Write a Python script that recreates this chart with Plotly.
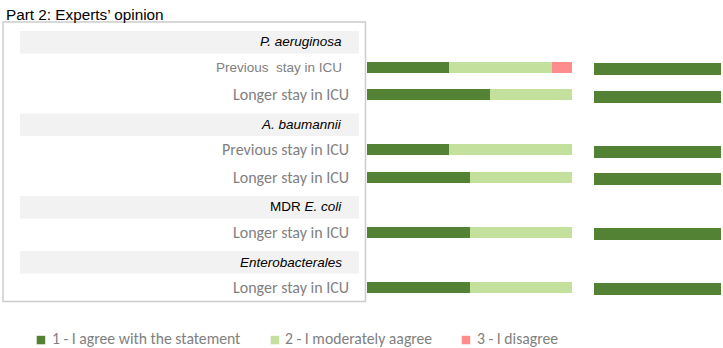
import plotly.graph_objects as go

# ---- data ----
groups = ["P. aeruginosa", "A. baumannii", "MDR E. coli", "Enterobacterales"]
group_titles = ["<i>P. aeruginosa</i>", "<i>A. baumannii</i>", "MDR <i>E. coli</i>", "<i>Enterobacterales</i>"]
row_group = ["P. aeruginosa", "P. aeruginosa", "A. baumannii", "A. baumannii", "MDR E. coli", "Enterobacterales"]
row_label = ["Previous  stay in ICU", "Longer stay in ICU", "Previous stay in ICU",
             "Longer stay in ICU", "Longer stay in ICU", "Longer stay in ICU"]
agree = [4, 6, 4, 5, 5, 5]
moderate = [5, 4, 6, 5, 5, 5]
disagree = [1, 0, 0, 0, 0, 0]
right_agree = [10, 10, 10, 10, 10, 10]
legend_names = ["1 - I agree with the statement", "2 - I moderately aagree", "3 - I disagree"]
title_text = "Part 2: Experts\u2019 opinion"

# ---- styles ----
W, H = 723, 348
C_AGREE, C_MOD, C_DIS = "#548235", "#C3E19D", "#FF8C8C"
GRAY = "#7F7F7F"
CAL = "Carlito, Calibri, Lato, sans-serif"
ARIAL = "Arial, Liberation Sans, sans-serif"

def px(x):
    return x / W

def py(y):
    return 1 - y / H

# slot categories: header slot followed by its rows
row_keys = [f"{g}|{i}" for i, g in enumerate(row_group)]
slots = []
header_keys = []
for g in groups:
    hk = f"hdr|{g}"
    header_keys.append(hk)
    slots.append(hk)
    for k, rg in zip(row_keys, row_group):
        if rg == g:
            slots.append(k)

fig = go.Figure()
for vals, col, name in zip([agree, moderate, disagree], [C_AGREE, C_MOD, C_DIS], legend_names):
    fig.add_trace(go.Bar(x=vals, y=row_keys, orientation="h", marker=dict(color=col, line=dict(width=0)),
                         width=0.4, name=name, showlegend=False, xaxis="x", yaxis="y"))
fig.add_trace(go.Bar(x=right_agree, y=row_keys, orientation="h", marker=dict(color=C_AGREE, line=dict(width=0)),
                     width=0.44, name=legend_names[0], showlegend=False, xaxis="x2", yaxis="y2"))

top, bot = 26.05, 301.05
shift = 1.5
n = len(slots)
yax = dict(type="category", categoryorder="array", categoryarray=slots, range=[n - 0.5, -0.5],
           showticklabels=False, showgrid=False, zeroline=False, showline=False, ticks="", fixedrange=True)
fig.update_layout(
    width=W, height=H, margin=dict(l=0, r=0, t=0, b=0),
    paper_bgcolor="white", plot_bgcolor="rgba(0,0,0,0)",
    barmode="stack", bargap=0,
    xaxis=dict(domain=[px(367), px(572.3)], range=[0, 10], visible=False, fixedrange=True),
    xaxis2=dict(domain=[px(593.5), px(721)], range=[0, 10], visible=False, anchor="y2", fixedrange=True),
    yaxis=dict(domain=[py(bot), py(top)], **yax),
    yaxis2=dict(domain=[py(bot + shift), py(top + shift)], anchor="x2", **yax),
)

shapes = []
# left panel box
shapes.append(dict(type="rect", xref="paper", yref="paper", x0=px(3), x1=px(365.5), y0=py(301.5), y1=py(22),
                   line=dict(color="#CCCCCC", width=1.5), fillcolor="rgba(0,0,0,0)", layer="below"))
annotations = []
for hk, gt in zip(header_keys, group_titles):
    idx = slots.index(hk)
    shapes.append(dict(type="rect", xref="paper", yref="y", x0=px(20), x1=px(359),
                       y0=idx - 0.32, y1=idx + 0.5, fillcolor="#F2F2F2", line=dict(width=0), layer="below"))
    annotations.append(dict(text=gt, xref="paper", yref="y", x=px(344), y=hk, yshift=-2.2,
                            xanchor="right", yanchor="middle", showarrow=False,
                            font=dict(family=ARIAL, size=13.5, color="black")))
for i, (k, lab) in enumerate(zip(row_keys, row_label)):
    if i == 0:
        fnt = dict(family=ARIAL, size=13.5, color=GRAY)
        xr = 343.5
    else:
        fnt = dict(family=CAL, size=16, color=GRAY)
        xr = 350.5
    annotations.append(dict(text=lab, xref="paper", yref="y", x=px(xr), y=k,
                            xanchor="right", yanchor="middle", showarrow=False, font=fnt))

# title
annotations.append(dict(text=title_text, xref="paper", yref="paper", x=px(4), y=py(14),
                        xanchor="left", yanchor="middle", showarrow=False,
                        font=dict(family=ARIAL, size=15.3, color="black")))

# legend (manual)
leg_sq_x = [36.7, 270.7, 461.7]
leg_tx_x = [50, 283, 475]
for sx, tx, col, name in zip(leg_sq_x, leg_tx_x, [C_AGREE, C_MOD, C_DIS], legend_names):
    shapes.append(dict(type="rect", xref="paper", yref="paper", x0=px(sx), x1=px(sx + 8.5),
                       y0=py(344.3), y1=py(335.8), fillcolor=col, line=dict(width=0)))
    annotations.append(dict(text=name, xref="paper", yref="paper", x=px(tx), y=py(338.3),
                            xanchor="left", yanchor="middle", showarrow=False,
                            font=dict(family=CAL, size=15.7, color=GRAY)))

fig.update_layout(shapes=shapes, annotations=annotations)
fig.write_html("out.html", config={"displayModeBar": False},
               post_script="document.body.style.margin='0';")
